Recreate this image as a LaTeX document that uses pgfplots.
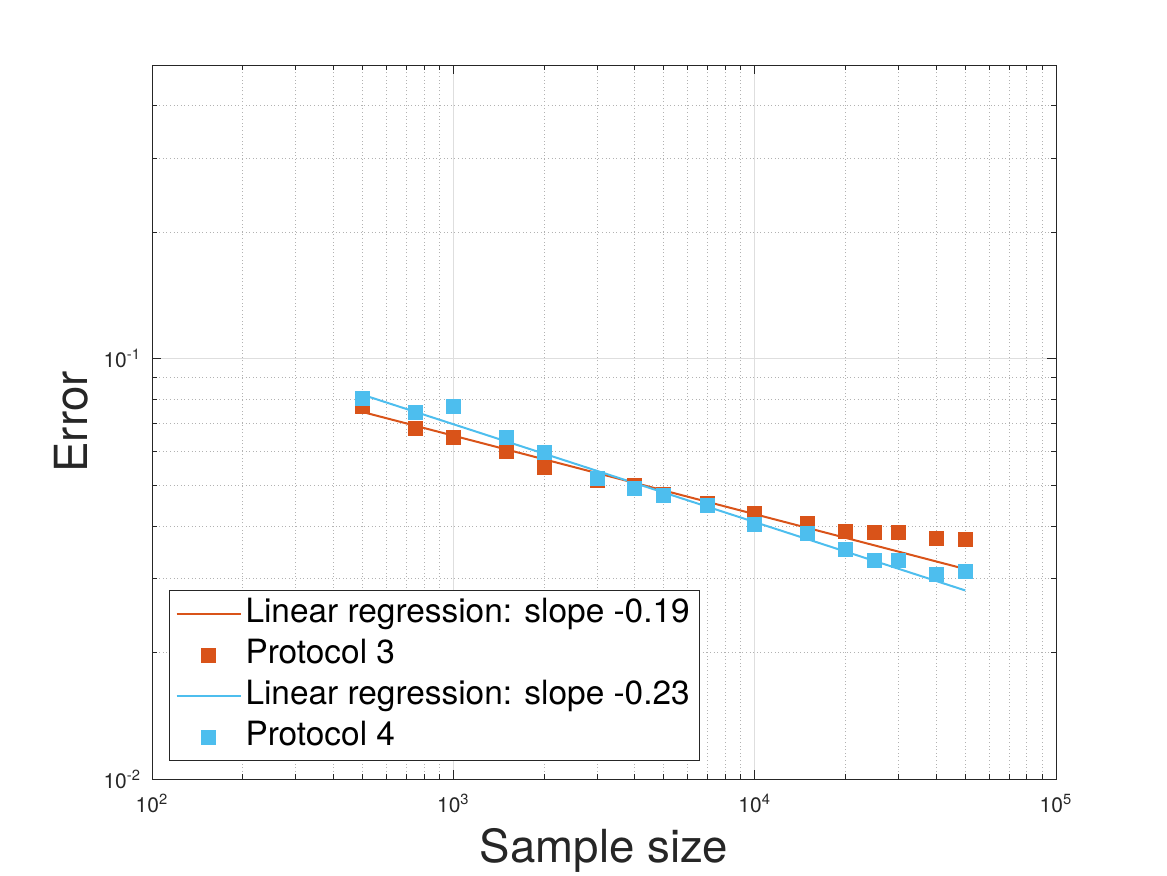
\documentclass[border=0pt]{standalone}
\usepackage{fontspec}
\setmainfont{TeX Gyre Heros}
\usepackage{pgfplots}
\pgfplotsset{compat=1.18}
\definecolor{c1}{HTML}{D95319}
\definecolor{c2}{HTML}{4DBEEE}
\definecolor{axc}{HTML}{262626}
\begin{document}
\begin{tikzpicture}
\useasboundingbox (-76pt,-48pt) rectangle (507.5pt,389.5pt);
\begin{axis}[
  at={(0,0)}, anchor=south west,
  scale only axis, width=452pt, height=357pt,
  xmode=log, ymode=log, log basis x=10, log basis y=10,
  xmin=100, xmax=100000, ymin=0.01, ymax=0.5,
  axis line style={axc, line width=0.5pt},
  tick style={axc, line width=0.5pt},
  major tick length=4.5pt, minor tick length=2.5pt,
  tick align=inside,
  grid=both,
  major grid style={solid, line width=0.5pt, color=black!13},
  minor grid style={dash pattern=on 0.5pt off 1.3pt, line width=0.5pt, color=black!30},
  xticklabel={\pgfmathtruncatemacro{\e}{round(\tick)}10\textsuperscript{\e}},
  yticklabel={\pgfmathtruncatemacro{\e}{round(\tick)}10\textsuperscript{\e}},
  xticklabel style={font=\fontsize{10.5}{12}\selectfont, text=axc, yshift=-4pt},
  yticklabel style={font=\fontsize{10.5}{12}\selectfont, text=axc, xshift=-2pt},
  xlabel={Sample size},
  xlabel style={at={(axis description cs:0.5,0)}, anchor=base, yshift=-41.5pt, font=\fontsize{22.8}{26}\selectfont, text=axc},
  ylabel={Error},
  ylabel style={at={(axis description cs:-0.0719,0.5)}, rotate=0, anchor=base, font=\fontsize{22.8}{26}\selectfont, text=axc},
  legend style={at={(axis description cs:0,0)}, anchor=south west, xshift=8.5pt, yshift=9pt,
    draw=axc, line width=0.5pt, fill=white, font=\fontsize{16.7}{20}\selectfont,
    inner xsep=3pt, inner ysep=1.5pt, row sep=0pt,
    nodes={inner sep=2pt, text height=12.5pt, text depth=4pt}},
  legend cell align=left,
  legend image code/.code={\draw[#1, mark repeat=2, mark phase=2] plot coordinates {(1pt,0pt) (17pt,0pt) (33pt,0pt)};},
]
\addplot[c1, line width=1pt] coordinates {(500,0.0747) (50000,0.0316)};
\addlegendentry{Linear regression: slope -0.19}
\addplot[only marks, mark=square*, mark size=3.5pt, mark options={draw=c1, fill=c1, line width=0.5pt}] coordinates {
(500,0.0772) (750,0.0684) (1000,0.0648) (1500,0.0603) (2000,0.0552)
(3000,0.0514) (4000,0.0500) (5000,0.0476) (7000,0.0453) (10000,0.0429)
(15000,0.0406) (20000,0.0389) (25000,0.0387) (30000,0.0387) (40000,0.0374) (50000,0.0372)};
\addlegendentry{Protocol 3}
\addplot[c2, line width=1pt] coordinates {(500,0.0821) (50000,0.0281)};
\addlegendentry{Linear regression: slope -0.23}
\addplot[only marks, mark=square*, mark size=3.5pt, mark options={draw=c2, fill=c2, line width=0.5pt}] coordinates {
(500,0.0803) (750,0.0743) (1000,0.0772) (1500,0.0648) (2000,0.0597)
(3000,0.0520) (4000,0.0492) (5000,0.0473) (7000,0.0448) (10000,0.0404)
(15000,0.0384) (20000,0.0352) (25000,0.0331) (30000,0.0331) (40000,0.0307) (50000,0.0312)};
\addlegendentry{Protocol 4}
\end{axis}
\end{tikzpicture}
\end{document}
